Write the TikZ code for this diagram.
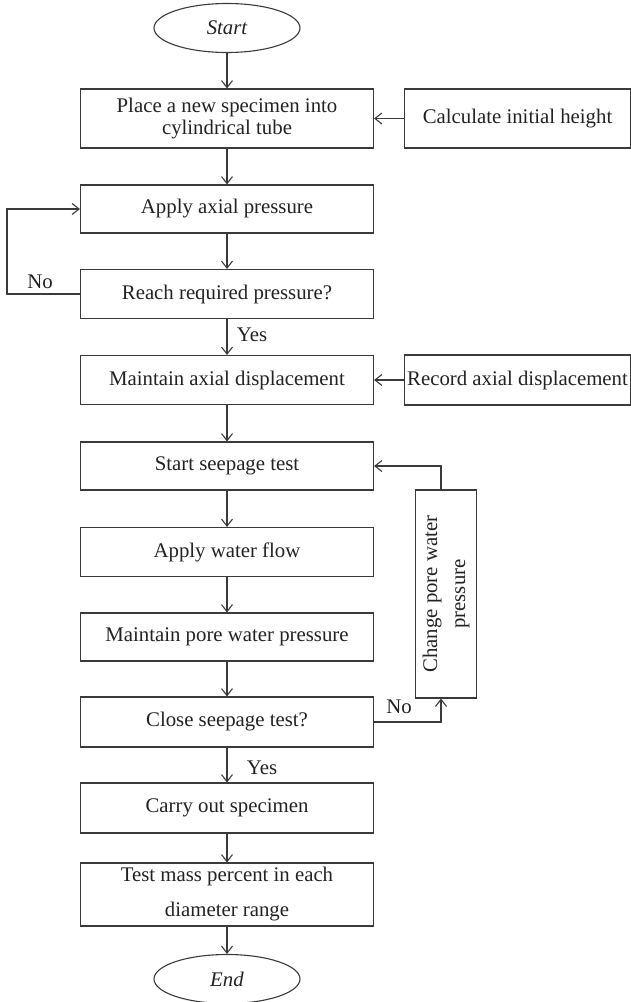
\documentclass[tikz,border=0pt]{standalone}
\usepackage{fontspec}
\setmainfont{Liberation Serif}
\usetikzlibrary{shapes.geometric,arrows.meta}
\definecolor{ln}{HTML}{3A3A3A}
\definecolor{tx}{HTML}{222222}
\begin{document}
\begin{tikzpicture}[x=1pt,y=-1pt,
  every node/.style={font=\fontsize{20.8}{27}\selectfont, text=tx},
  box/.style={draw=ln, line width=1.1pt, rectangle, minimum width=293pt, align=center, inner sep=0pt},
  sidebox/.style={draw=ln, line width=1.1pt, rectangle, minimum width=226pt, minimum height=59pt, align=center, inner sep=0pt},
  term/.style={draw=ln, line width=1.1pt, ellipse, minimum width=146pt, minimum height=49pt, inner sep=0pt, font=\fontsize{20.8}{27}\selectfont\itshape},
  conn/.style={draw=ln, line width=1.1pt, -{Straight Barb[length=7pt,width=11pt,line width=1.1pt]}},
  lab/.style={inner sep=0pt}]
\useasboundingbox (0,0) rectangle (631,1002);
\node[term] (start) at (227,28) {Start};
\node[box, minimum height=59pt, font=\fontsize{20.8}{22}\selectfont] (b1) at (227,118.5) {Place a new specimen into\\cylindrical tube};
\node[sidebox] (calc) at (517.5,118.5) {Calculate initial height};
\node[box, minimum height=48pt] (apply) at (227,209) {Apply axial pressure};
\node[box, minimum height=49pt] (reach) at (227,294) {Reach required pressure?};
\node[box, minimum height=49pt] (maint) at (227,380) {Maintain axial displacement};
\node[sidebox, minimum height=50pt] (record) at (517.5,380) {Record axial displacement};
\node[box, minimum height=48pt] (seep) at (227,466) {Start seepage test};
\node[box, minimum height=49pt] (water) at (227,552) {Apply water flow};
\node[box, minimum height=48pt] (pore) at (227,637) {Maintain pore water pressure};
\node[box, minimum height=50pt] (close) at (227,722) {Close seepage test?};
\node[box, minimum height=50pt] (carry) at (227,808) {Carry out specimen};
\node[box, minimum height=63pt, font=\fontsize{20.8}{35}\selectfont] (mass) at (227,894.5) {Test mass percent in each\\diameter range};
\node[term] (end) at (227,979) {End};
\node[draw=ln, line width=1.1pt, rectangle, minimum width=61pt, minimum height=208pt, inner sep=0pt] (change) at (446,594) {};
\node[rotate=90, align=center, inner sep=0pt, font=\fontsize{20.8}{28}\selectfont] (changetxt) at (change.center) {Change pore water\\pressure};

\coordinate (l1) at (7,294);
\coordinate (l2) at (7,209);
\coordinate (r1) at (441,722);
\coordinate (r2) at (441,466);

\draw[conn] (start) -- (b1);
\draw[conn] (b1) -- (apply);
\draw[conn] (apply) -- (reach);
\draw[conn] (reach) -- (maint);
\draw[conn] (maint) -- (seep);
\draw[conn] (seep) -- (water);
\draw[conn] (water) -- (pore);
\draw[conn] (pore) -- (close);
\draw[conn] (close) -- (carry);
\draw[conn] (carry) -- (mass);
\draw[conn] (mass) -- (end);
\draw[conn] (calc) -- (b1);
\draw[conn] (record) -- (maint);
\draw[conn] (reach.west) -- (l1) -- (l2) -- (apply.west);
\draw[conn] (close.east) -- (r1) -- (change.south -| r1);
\draw[conn] (change.north -| r2) -- (r2) -- (seep.east);

\node[lab] (no1) at (40,282) {No};
\node[lab] (yes1) at (252,335) {Yes};
\node[lab] (no2) at (399,707) {No};
\node[lab] (yes2) at (262,768) {Yes};
\end{tikzpicture}
\end{document}
